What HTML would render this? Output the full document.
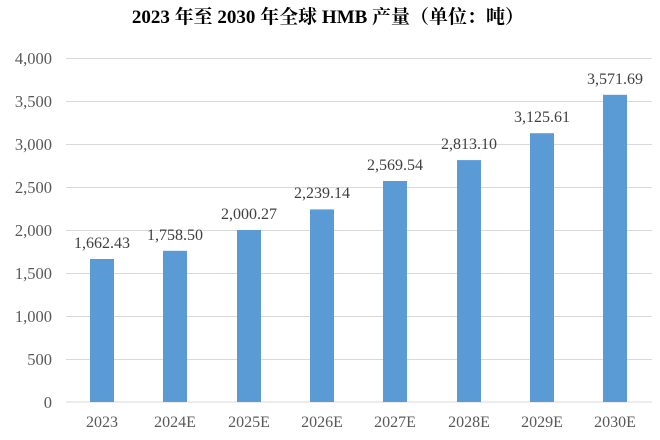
<!DOCTYPE html>
<html><head><meta charset="utf-8"><style>body{margin:0;background:#fff}</style></head><body>
<svg width="660" height="435" xmlns="http://www.w3.org/2000/svg" font-family="Liberation Serif, Noto Serif CJK SC, serif">
<rect width="660" height="435" fill="#fff"/>
<text x="328" y="23" text-anchor="middle" font-size="19" font-weight="bold" fill="#000">2023 年至 2030 年全球 HMB 产量（单位：吨）</text>
<g stroke="#d9d9d9" stroke-width="1">
<line x1="66" x2="652" y1="58.5" y2="58.5"/><line x1="66" x2="652" y1="101.5" y2="101.5"/><line x1="66" x2="652" y1="144.5" y2="144.5"/><line x1="66" x2="652" y1="187.5" y2="187.5"/><line x1="66" x2="652" y1="230.5" y2="230.5"/><line x1="66" x2="652" y1="273.5" y2="273.5"/><line x1="66" x2="652" y1="316.5" y2="316.5"/><line x1="66" x2="652" y1="359.5" y2="359.5"/><line x1="66" x2="652" y1="402" y2="402"/>
</g>
<g font-size="16.5" fill="#595959" text-anchor="end">
<text x="52" y="64">4,000</text><text x="52" y="107">3,500</text><text x="52" y="150">3,000</text><text x="52" y="193">2,500</text><text x="52" y="236">2,000</text><text x="52" y="279">1,500</text><text x="52" y="322">1,000</text><text x="52" y="365">500</text><text x="52" y="408">0</text>
</g>
<g fill="#5b9bd5">
<rect x="90" y="259" width="24" height="143"/>
<rect x="163" y="250.8" width="24" height="151.2"/>
<rect x="237" y="230" width="24" height="172"/>
<rect x="310" y="209.4" width="24" height="192.6"/>
<rect x="383" y="181" width="24" height="221"/>
<rect x="457" y="160.1" width="24" height="241.9"/>
<rect x="530" y="133.2" width="24" height="268.8"/>
<rect x="603" y="94.8" width="24" height="307.2"/>
</g>
<g font-size="16" fill="#404040" text-anchor="middle">
<text x="102" y="248">1,662.43</text><text x="175" y="240">1,758.50</text><text x="249" y="219">2,000.27</text><text x="322" y="198">2,239.14</text><text x="395" y="170">2,569.54</text><text x="469" y="149">2,813.10</text><text x="542" y="122">3,125.61</text><text x="615" y="84">3,571.69</text>
</g>
<g font-size="16" fill="#595959" text-anchor="middle">
<text x="102" y="427">2023</text><text x="175" y="427">2024E</text><text x="249" y="427">2025E</text><text x="322" y="427">2026E</text><text x="395" y="427">2027E</text><text x="469" y="427">2028E</text><text x="542" y="427">2029E</text><text x="615" y="427">2030E</text>
</g>
</svg>
</body></html>
